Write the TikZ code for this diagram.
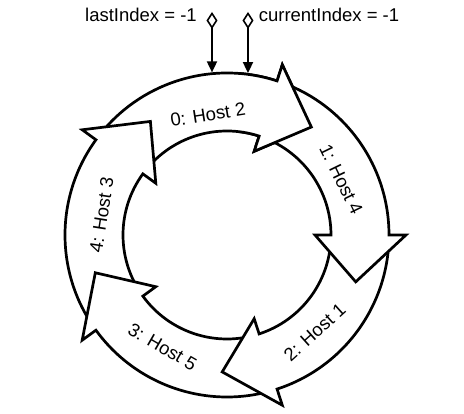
\documentclass[tikz,border=0pt]{standalone}
\usepackage{fontspec}
\setmainfont{Liberation Sans}
\usetikzlibrary{arrows.meta}
\newcommand{\hostarrow}[1]{%
  \pgfmathsetmacro\tailang{#1+90}\pgfmathsetmacro\baseang{#1+20}%
  \path[ringarrow] (\tailang:162) arc[start angle=\tailang, end angle=\baseang, radius=162]
    -- (\baseang:179) -- (#1:137) -- (\baseang:88) -- (\baseang:104)
    arc[start angle=\baseang, end angle=\tailang, radius=104] -- cycle;}
\begin{document}
\begin{tikzpicture}[x=1pt,y=1pt,
  ringarrow/.style={draw=black, line width=2.7pt, fill=white, line join=miter},
  hostlabel/.style={font=\fontsize{18.5}{20}\selectfont, inner sep=0pt},
  idxlabel/.style={font=\fontsize{18.5}{20}\selectfont, inner sep=0pt},
  pointer/.style={line width=1.8pt,
    {Diamond[open,length=17pt,width=11pt,line width=1.6pt]}-{Triangle[length=11pt,width=10pt]}}]
\useasboundingbox (-227,-179) rectangle (237,235);
% ring of arrows
\hostarrow{52}
\hostarrow{124}
\hostarrow{196}
\hostarrow{268}
\hostarrow{340}
\begin{scope}
  \clip (0,0) -- (40:260) arc[start angle=40, end angle=85, radius=260] -- cycle;
  \hostarrow{52}
\end{scope}
% labels in the ring
\node[hostlabel, rotate=9]   (h0) at (99:122)  {0: Host 2};
\node[hostlabel, rotate=-64] (h1) at (26:127)  {1: Host 4};
\node[hostlabel, rotate=42]  (h2) at (-48:131) {2: Host 1};
\node[hostlabel, rotate=-30] (h3) at (-120:129) {3: Host 5};
\node[hostlabel, rotate=81]  (h4) at (171:127) {4: Host 3};
% index pointers
\node[idxlabel] (last) at (-86,220) {lastIndex = -1};
\node[idxlabel] (curr) at (102,220) {currentIndex = -1};
\coordinate (lastD) at (-15,223);
\coordinate (currD) at (21,223);
\coordinate (lastR) at (-15,162.6);
\coordinate (currR) at (21,161.9);
\draw[pointer] (lastD) -- (lastR);
\draw[pointer] (currD) -- (currR);
\end{tikzpicture}
\end{document}
